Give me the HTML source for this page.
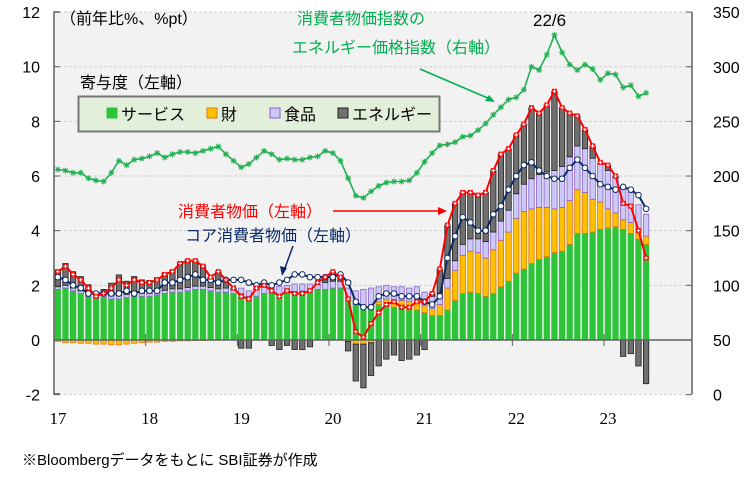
<!DOCTYPE html>
<html><head><meta charset="utf-8">
<style>
html,body{margin:0;padding:0;background:#fff;}
body{width:752px;height:472px;overflow:hidden;font-family:"Liberation Sans","Noto Sans CJK JP",sans-serif;}
</style></head>
<body>
<svg id="c" width="752" height="472" xmlns="http://www.w3.org/2000/svg"></svg>
<script>
const S=document.getElementById('c');
let h='';
const L=54,R=692,T=12,B=394;
const yv=v=>340-v*27.33;
const yr=v=>340-(v-50)*1.093;
const xc=i=>L+7.64*(i+0.5);
h+=`<rect x="${L}" y="${T}" width="${R-L}" height="${B-T}" fill="#f2f2f2"/>`;
for(let v=-2;v<=12;v+=2){ if(v!=0) h+=`<line x1="${L}" x2="${R}" y1="${yv(v)}" y2="${yv(v)}" stroke="#d0d0d0" stroke-dasharray="3,2"/>`;}
const cpi=[2.5,2.7,2.4,2.2,1.9,1.6,1.7,1.9,2.2,2.0,2.2,2.1, 2.1,2.2,2.4,2.5,2.8,2.9,2.9,2.7,2.3,2.5,2.2,1.9, 1.6,1.5,1.9,2.0,1.8,1.6,1.8,1.7,1.7,1.8,2.1,2.3, 2.5,2.3,1.5,0.3,0.1,0.6,1.0,1.3,1.4,1.2,1.2,1.4, 1.4,1.7,2.6,4.2,5.0,5.4,5.4,5.3,5.4,6.2,6.8,7.0, 7.5,7.9,8.5,8.3,8.6,9.1,8.5,8.3,8.2,7.7,7.1,6.5, 6.4,6.0,5.0,4.9,4.0,3.0];
const core=[2.3,2.2,2.0,1.9,1.7,1.7,1.7,1.7,1.7,1.8,1.7,1.8, 1.8,1.8,2.1,2.1,2.2,2.3,2.4,2.2,2.2,2.1,2.2,2.2, 2.2,2.1,2.0,2.1,2.0,2.1,2.2,2.4,2.4,2.3,2.3,2.3, 2.3,2.4,2.1,1.4,1.2,1.2,1.6,1.7,1.7,1.6,1.6,1.6, 1.4,1.3,1.6,3.0,3.8,4.5,4.3,4.0,4.0,4.6,4.9,5.5, 6.0,6.4,6.5,6.2,6.0,5.9,5.9,6.3,6.6,6.3,6.0,5.7, 5.6,5.5,5.6,5.5,5.3,4.8];
const sv=[1.85,1.9,1.8,1.7,1.6,1.55,1.55,1.5,1.5,1.55,1.6,1.6, 1.6,1.65,1.7,1.75,1.75,1.8,1.85,1.85,1.8,1.75,1.75,1.7, 1.7,1.6,1.6,1.7,1.7,1.65,1.7,1.75,1.8,1.8,1.85,1.85, 1.9,1.9,1.55,1.3,1.25,1.25,1.3,1.3,1.2,1.2,1.1,1.1, 1.0,0.9,0.9,1.1,1.45,1.7,1.75,1.7,1.6,1.7,1.95,2.15, 2.45,2.6,2.8,2.95,3.05,3.2,3.25,3.5,3.9,3.9,3.95,4.05, 4.1,4.15,4.05,3.9,3.7,3.5];
const gd=[-0.05,-0.1,-0.1,-0.12,-0.12,-0.15,-0.15,-0.18,-0.18,-0.15,-0.12,-0.1, -0.08,-0.08,-0.05,-0.05,-0.03,-0.03,-0.02,-0.02,0,0,0,0, 0,0,0,0,0,0,0,0,0,0,0,0, 0,0,-0.05,-0.15,-0.15,-0.1,0.1,0.2,0.25,0.25,0.3,0.35, 0.25,0.25,0.4,0.8,1.1,1.4,1.5,1.5,1.4,1.6,1.7,1.8, 2.0,2.1,2.0,1.9,1.8,1.6,1.6,1.6,1.6,1.5,1.2,1.0, 0.7,0.5,0.35,0.4,0.3,0.3];
const fd=[0.1,0.1,0.1,0.1,0.1,0.12,0.12,0.12,0.12,0.12,0.12,0.12, 0.12,0.12,0.12,0.12,0.12,0.12,0.12,0.12,0.12,0.12,0.15,0.15, 0.2,0.2,0.25,0.25,0.3,0.3,0.3,0.3,0.25,0.25,0.25,0.25, 0.25,0.25,0.35,0.5,0.6,0.65,0.55,0.5,0.5,0.5,0.5,0.5, 0.5,0.45,0.4,0.35,0.35,0.4,0.45,0.5,0.6,0.65,0.7,0.8, 0.9,1.0,1.1,1.2,1.3,1.4,1.5,1.6,1.6,1.6,1.5,1.45, 1.4,1.3,1.2,1.1,0.95,0.8];
const en=cpi.map((c,i)=>+(c-sv[i]-Math.max(gd[i],0)-fd[i]-Math.min(gd[i],0)).toFixed(2));
const bw=5.4;
for(let i=0;i<78;i++){
  const x=xc(i)-bw/2;
  let pos=0,neg=0;
  const seg=(v,fill,st)=>{
    if(v>=0){const y1=yv(pos+v),y0=yv(pos);h+=`<rect x="${x}" y="${y1}" width="${bw}" height="${Math.max(y0-y1,0)}" fill="${fill}" stroke="${st}" stroke-width="0.8"/>`;pos+=v;}
    else{const y0=yv(neg),y1=yv(neg+v);h+=`<rect x="${x}" y="${y0}" width="${bw}" height="${y1-y0}" fill="${fill}" stroke="${st}" stroke-width="0.8"/>`;neg+=v;}
  };
  seg(sv[i],'#2ec43a','#2ec43a');
  seg(gd[i],'#ffc000','#e07a10');
  seg(fd[i],'#ccc8f8','#8a62c8');
  seg(en[i],'#707070','#202020');
}
h+=`<line x1="${L}" x2="${R}" y1="340" y2="340" stroke="#606060" stroke-width="1.5"/>`;
for(let k=1;k<7;k++){const x=L+91.67*k;h+=`<line x1="${x}" x2="${x}" y1="334" y2="346" stroke="#606060"/>`;}
const ei=[206,205,203,203,198,196,195,203,214,210,215,216, 218,221,217,220,222,222,221,223,225,227,220,214, 208,211,217,223,220,215,216,215,215,217,218,223, 221,214,198,182,180,186,191,194,195,195,196,203, 213,221,228,229,231,236,237,242,248,256,263,270, 272,279,300,297,311,329,313,302,297,302,298,288, 294,293,281,283,273,276];
const pts=a=>a.map((v,i)=>`${xc(i).toFixed(1)},${v.toFixed(1)}`).join(' ');
h+=`<polyline points="${pts(ei.map(yr))}" fill="none" stroke="#20b050" stroke-width="1.6"/>`;
ei.forEach((v,i)=>{const x=xc(i),y=yr(v);h+=`<path d="M${x-3} ${y}h6M${x} ${y-3}v6M${x-2.2} ${y-2.2}l4.4 4.4M${x-2.2} ${y+2.2}l4.4 -4.4" stroke="#20b050" stroke-width="1"/>`;});
h+=`<polyline points="${pts(core.map(yv))}" fill="none" stroke="#0c2a66" stroke-width="2"/>`;
core.forEach((v,i)=>{h+=`<circle cx="${xc(i)}" cy="${yv(v)}" r="2.8" fill="#fff" stroke="#0c2a66" stroke-width="1"/>`;});
h+=`<polyline points="${pts(cpi.map(yv))}" fill="none" stroke="#ff0000" stroke-width="2"/>`;
cpi.forEach((v,i)=>{const x=xc(i),y=yv(v);h+=`<rect x="${x-2.5}" y="${y-2.5}" width="5" height="5" fill="#ff0000"/><path d="M${x-1.8} ${y}h3.6M${x} ${y-1.8}v3.6" stroke="#fff" stroke-width="1"/>`;});
h+=`<path d="M${L+6} ${T}H${L}V${B}H${L+6}" fill="none" stroke="#606060" stroke-width="1.5"/>`;
for(let v=-2;v<=12;v+=2){const y=yv(v);h+=`<line x1="${L}" x2="${L+6}" y1="${y}" y2="${y}" stroke="#606060"/>`;h+=`<text x="40" y="${y+6}" text-anchor="end" font-size="16" font-family="Liberation Sans,sans-serif">${v}</text>`;}
h+=`<line x1="${R}" x2="${R}" y1="${T}" y2="${B}" stroke="#606060" stroke-width="1.5"/>`;
for(let v=0;v<=350;v+=50){const y=yr(v);h+=`<line x1="${R-6}" x2="${R}" y1="${y}" y2="${y}" stroke="#606060"/>`;h+=`<text x="713" y="${y+6}" font-size="16" font-family="Liberation Sans,sans-serif">${v}</text>`;}
['17','18','19','20','21','22','23'].forEach((t,k)=>{h+=`<text x="${L+91.67*k+4}" y="424" text-anchor="middle" font-size="17" font-family="Liberation Serif,serif">${t}</text>`;});
h+=`<text x="60" y="24" font-size="16">（前年比%、%pt）</text>`;
h+=`<text x="297" y="24" font-size="16" fill="#00b050">消費者物価指数の</text>`;
h+=`<text x="292" y="53" font-size="16" fill="#00b050">エネルギー価格指数（右軸）</text>`;
h+=`<line x1="420" y1="69" x2="490" y2="99" stroke="#00b050" stroke-width="1.5"/><path d="M495 102l-10 -1 4 -6z" fill="#00b050"/>`;
h+=`<text x="533" y="26" font-size="17">22/6</text>`;
h+=`<text x="80" y="88" font-size="16">寄与度（左軸）</text>`;
h+=`<rect x="78.5" y="96.5" width="361" height="35" fill="#e2efda" stroke="#777" stroke-width="2"/>`;
const lg=[[107,'#2ec43a','#2ec43a','サービス'],[207,'#ffc000','#e07a10','財'],[270,'#ccc8f8','#8a62c8','食品'],[338,'#707070','#202020','エネルギー']];
lg.forEach(([x,f,s,t])=>{h+=`<rect x="${x}" y="108" width="10" height="10" fill="${f}" stroke="${s}"/><text x="${x+14}" y="120" font-size="16">${t}</text>`;});
h+=`<text x="178" y="217" font-size="16" fill="#ff0000">消費者物価（左軸）</text>`;
h+=`<line x1="333" y1="211" x2="440" y2="211" stroke="#ff0000" stroke-width="1.5"/><path d="M447 211l-9 -4v8z" fill="#ff0000"/>`;
h+=`<text x="185" y="241" font-size="16" fill="#0c2a66">コア消費者物価（左軸）</text>`;
h+=`<line x1="293" y1="246" x2="285" y2="268" stroke="#0c2a66" stroke-width="1.5"/><path d="M282 276l-2 -10 7 2z" fill="#0c2a66"/>`;
h+=`<text x="22" y="465" font-size="15">※Bloombergデータをもとに SBI証券が作成</text>`;
S.innerHTML=h;
</script>
</body></html>
